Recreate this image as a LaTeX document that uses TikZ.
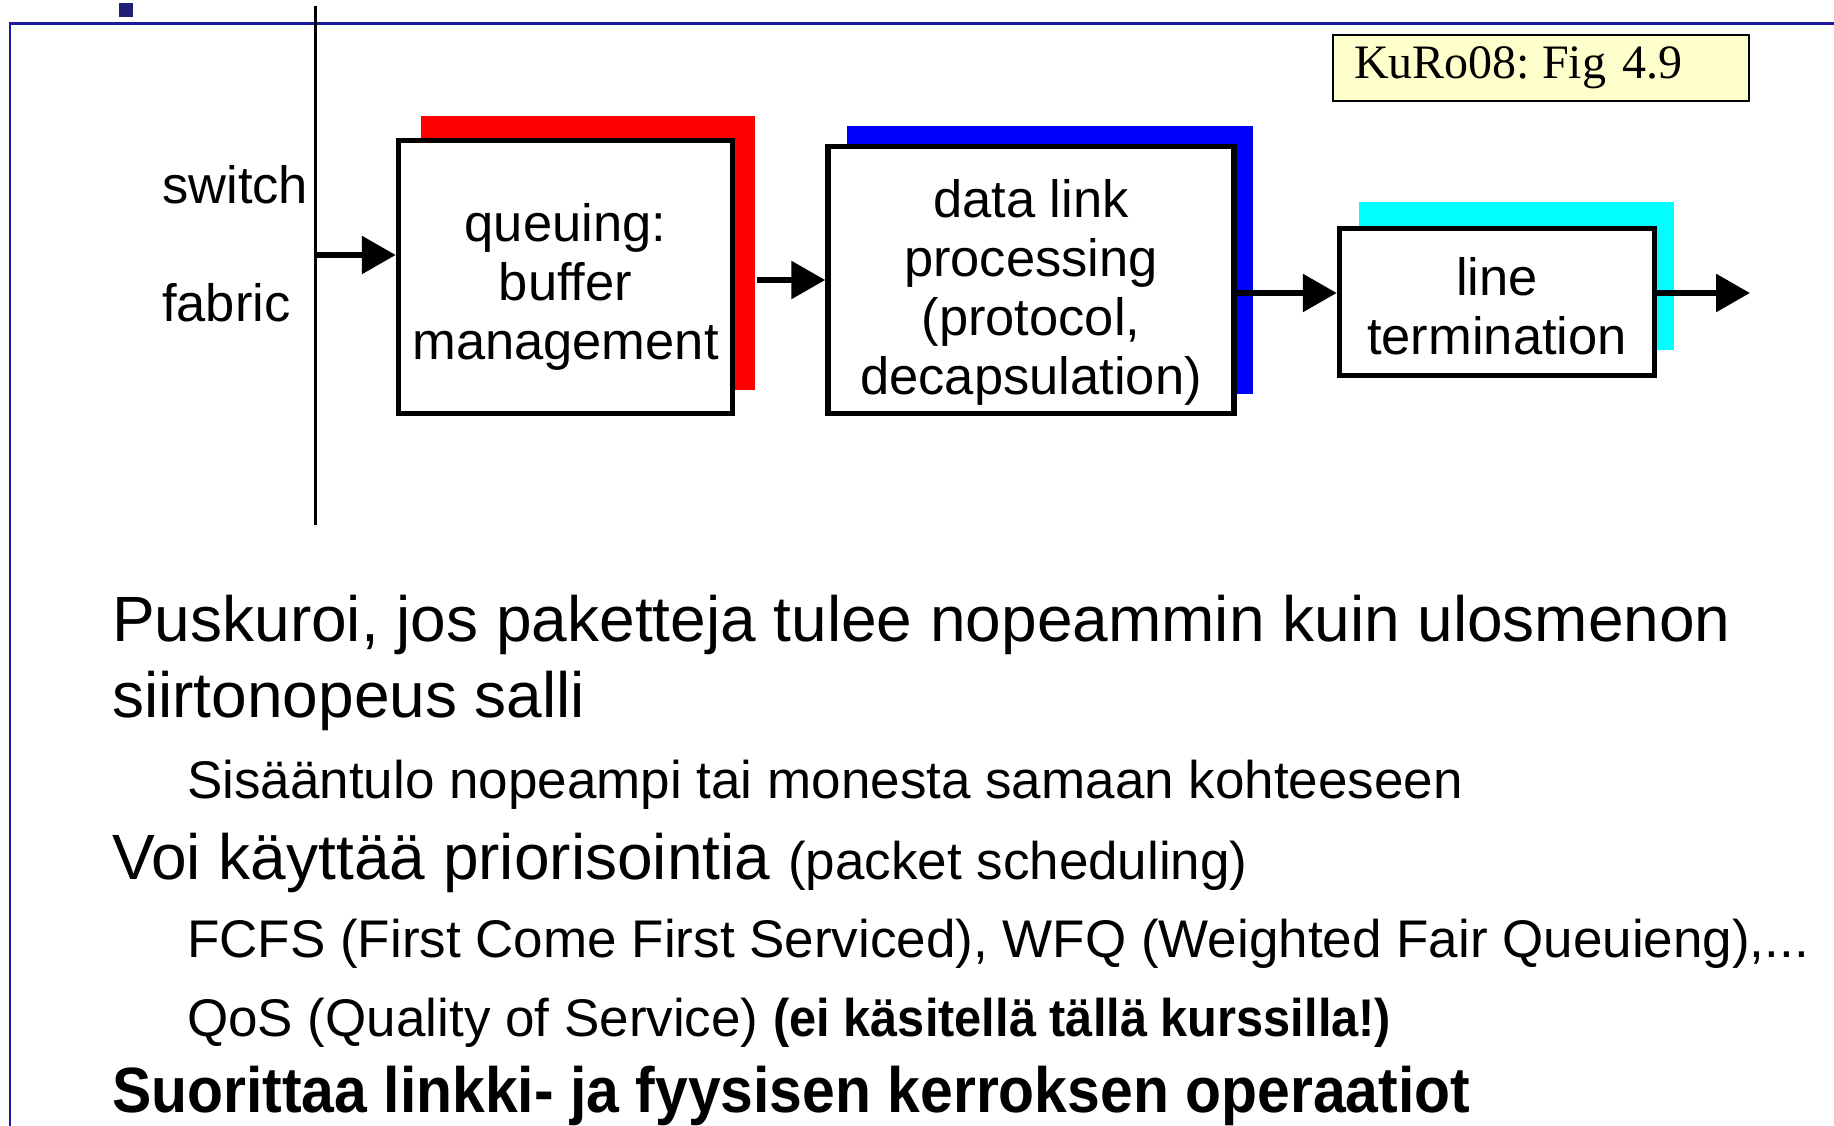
\documentclass[tikz,border=0pt]{standalone}
\usepackage{fontspec}
\setmainfont{Liberation Sans}[BoldFeatures={FakeStretch=0.92}]
\newfontfamily\timesfont{Liberation Serif}
\usetikzlibrary{arrows.meta,shadows}
\definecolor{frameblue}{RGB}{26,26,160}
\definecolor{navybox}{RGB}{31,31,120}
\definecolor{notefill}{RGB}{255,255,204}
\definecolor{aqua}{RGB}{0,255,255}
\begin{document}
\begin{tikzpicture}[x=1pt,y=-1pt,
            stage/.style={draw, line width=5.5pt, fill=white, inner sep=0pt},
            stagetext/.style={inner sep=0pt, align=center, font=\fontsize{52.5}{59}\selectfont},
            flow/.style={line width=6pt, -{Triangle[length=34pt,width=37pt]}},
            big/.style={anchor=base west, inner sep=0pt, font=\fontsize{64}{72}\selectfont},
            small/.style={anchor=base west, inner sep=0pt, font=\fontsize{53}{60}\selectfont}]
            \useasboundingbox (0,0) rectangle (1834,1126);
            \draw[frameblue, line width=2.5pt] (1834,23.5) -- (10,23.5) -- (10,1126);
            \fill[navybox] (119,3) rectangle (133,17);
            \coordinate (ftop) at (315,6);
            \coordinate (fbot) at (315,525);
            \coordinate (sw) at (315,255);
            \draw[line width=3pt] (ftop) -- (fbot);
            \node[anchor=base west, inner sep=0pt, font=\fontsize{52.5}{59}\selectfont] (sl) at (162,204) {switch};
            \node[anchor=base west, inner sep=0pt, font=\fontsize{52.5}{59}\selectfont] (fl) at (162,321) {fabric};
            \node[stage, minimum width=334pt, minimum height=273pt,
                general shadow={fill=red, shadow xshift=22pt, shadow yshift=24pt}] (q) at (565.5,277) {};
            \node[stagetext] (qt) at ([yshift=-10pt]q.center) {queuing:\\buffer\\management};
            \node[stage, minimum width=406pt, minimum height=267pt,
                general shadow={fill=blue, shadow xshift=19pt, shadow yshift=20pt}] (dl) at (1031,280) {};
            \node[stagetext] (dlt) at ([yshift=-12pt]dl.center) {data link\\processing\\(protocol,\\decapsulation)};
            \node[stage, minimum width=315pt, minimum height=147pt,
                general shadow={fill=aqua, shadow xshift=19pt, shadow yshift=26pt}] (lt) at (1497,302) {};
            \node[stagetext] (ltt) at ([yshift=-4pt]lt.center) {line\\termination};
            \coordinate (out) at (1750,293);
            \draw[flow] (sw) -- (sw -| q.west);
            \draw[flow] ([xshift=22pt]q.east |- dl.west) -- (dl.west);
            \draw[flow] ([yshift=9pt]lt.west -| dl.east) -- ([yshift=9pt]lt.west);
            \draw[flow] ([yshift=9pt]lt.east) -- (out);
            \node[draw, line width=1.5pt, fill=notefill, minimum height=66pt, inner xsep=21pt, inner ysep=0pt,
                text width=374pt, align=left, font=\timesfont\fontsize{48}{52}\selectfont] (ref) at (1541,68) {KuRo08:\hspace{12pt}Fig 4.9};
            \node[big] (l1) at (112,641) {Puskuroi, jos paketteja tulee nopeammin kuin ulosmenon};
            \node[big] (l2) at (112,717) {siirtonopeus salli};
            \node[small] (l3) at (187,798) {Sisääntulo nopeampi tai monesta samaan kohteeseen};
            \node[big] (l4) at (112,879) {Voi käyttää priorisointia {\fontsize{53}{60}\selectfont (packet scheduling)}};
            \node[small] (l5) at (187,957) {FCFS (First Come First Serviced), WFQ (Weighted Fair Queuieng),...};
            \node[small] (l6) at (187,1036) {QoS (Quality of Service) \textbf{(ei käsitellä tällä kurssilla!)}};
            \node[big, font=\fontsize{64}{72}\selectfont\bfseries] (l7) at (112,1112) {Suorittaa linkki- ja fyysisen kerroksen operaatiot};
        \end{tikzpicture}
\end{document}
